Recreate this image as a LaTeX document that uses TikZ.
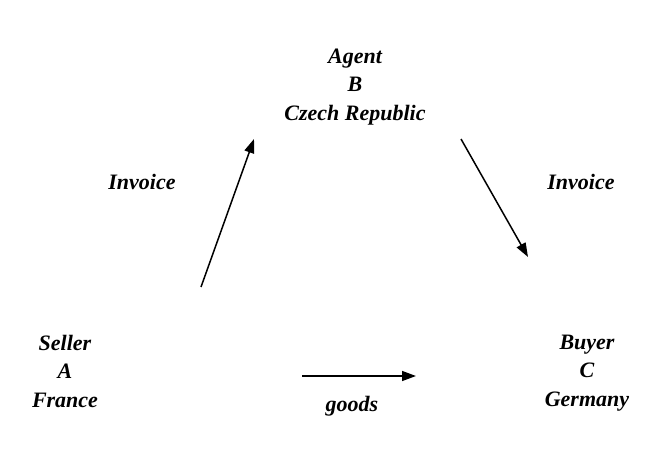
\documentclass[tikz,border=0pt]{standalone}
\usepackage{fontspec}
\setmainfont{Liberation Serif}
\usetikzlibrary{arrows.meta,positioning}

\begin{document}
\begin{tikzpicture}[x=1pt,y=-1pt,%
        party/.style={align=center, font=\fontsize{22}{28.5}\selectfont\bfseries\itshape},
        lbl/.style={font=\fontsize{22}{28.5}\selectfont\bfseries\itshape},
        flow/.style={line width=1.5pt, -{Triangle[length=14pt, width=10pt]}}
        ]
        \useasboundingbox (0,0) rectangle (672,470);
        \node[party] (agent) at (355,87) {Agent\\ B\\ Czech Republic};
        \node[party] (seller) at (65,371) {Seller\\ A\\ France};
        \node[party] (buyer) at (587,373) {Buyer\\ C\\ Germany};

        \node[lbl] (inv1) at (142,182) {Invoice};
        \node[lbl] (inv2) at (581,182) {Invoice};
        \node[lbl] (goods) at (352,406) {goods};

        \coordinate (s1) at (201,287);
        \coordinate (e1) at (254,139);
        \coordinate (s2) at (461,139);
        \coordinate (e2) at (528,257);
        \coordinate (s3) at (302,376);
        \coordinate (e3) at (416,376);

        \draw[flow] (s1) -- (e1);
        \draw[flow] (s2) -- (e2);
        \draw[flow] (s3) -- (e3);
      \end{tikzpicture}
\end{document}
